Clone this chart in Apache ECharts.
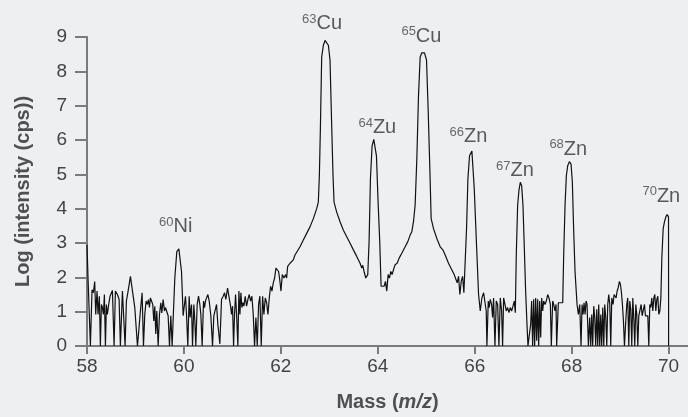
<!DOCTYPE html>
<html>
<head>
  <meta charset="utf-8">
  <title>Mass spectrum</title>
  <script src="https://cdn.jsdelivr.net/npm/echarts@6/dist/echarts.min.js"></script>
  <style>
    html, body { margin: 0; padding: 0; background: #eeeff1; }
    #chart { width: 688px; height: 417px; }
  </style>
</head>
<body>
  <div id="chart"></div>
  <script>
    // [mass (m/z), log intensity (cps)]
    const spectrum = [
      [58.000, 2.95], [58.021, 1.98], [58.070, 0], [58.104, 1.64], [58.132, 1.55], [58.159, 1.88],
      [58.180, 0.92], [58.207, 1.60], [58.228, 0.92], [58.255, 1.45], [58.276, 0], [58.297, 1.21],
      [58.318, 1.12], [58.338, 0.92], [58.359, 1.50], [58.380, 0], [58.400, 1.21], [58.420, 0.92],
      [58.448, 1.21], [58.476, 1.45], [58.524, 1.62], [58.559, 0], [58.586, 1.60], [58.627, 1.50],
      [58.662, 1.36], [58.689, 0], [58.731, 1.60], [58.758, 1.62], [58.786, 0], [58.813, 1.31],
      [58.848, 1.60], [58.896, 2.03], [58.937, 2.00], [58.986, 1.12], [59.013, 1.07], [59.041, 0],
      [59.068, 0.44], [59.096, 0.92], [59.137, 1.55], [59.165, 0], [59.192, 0.92], [59.220, 1.31],
      [59.247, 1.21], [59.268, 1.35], [59.288, 1.12], [59.309, 1.40], [59.330, 1.36], [59.357, 1.21],
      [59.378, 0.73], [59.399, 1.16], [59.419, 0.35], [59.440, 1.02], [59.468, 0], [59.495, 0.92],
      [59.523, 1.26], [59.543, 0.96], [59.571, 1.35], [59.598, 1.02], [59.619, 1.12], [59.647, 1.16],
      [59.674, 0.88], [59.702, 0], [59.729, 0.88], [59.757, 0], [59.784, 1.02], [59.812, 1.98],
      [59.853, 2.75], [59.895, 2.83], [59.925, 2.80], [59.950, 2.17], [59.984, 0.88], [60.011, 1.21],
      [60.032, 1.45], [60.053, 0.92], [60.080, 0], [60.108, 1.45], [60.128, 0.83], [60.156, 1.21],
      [60.177, 0], [60.204, 1.21], [60.225, 0.73], [60.245, 0], [60.273, 1.21], [60.301, 1.45],
      [60.328, 1.21], [60.349, 0.92], [60.376, 0], [60.404, 1.31], [60.425, 1.12], [60.445, 1.31],
      [60.466, 1.40], [60.494, 1.50], [60.521, 1.31], [60.555, 0.88], [60.590, 0], [60.617, 0.88],
      [60.645, 0.88], [60.673, 1.21], [60.700, 0.63], [60.741, 0.06], [60.776, 1.36], [60.810, 1.45],
      [60.838, 1.55], [60.865, 1.36], [60.900, 1.69], [60.934, 1.74], [60.962, 1.16], [60.982, 0.92],
      [61.003, 1.16], [61.024, 0], [61.044, 0.92], [61.065, 1.50], [61.086, 0.92], [61.113, 0],
      [61.134, 1.60], [61.155, 0.92], [61.175, 1.55], [61.196, 1.12], [61.216, 1.26], [61.237, 1.16],
      [61.265, 1.45], [61.292, 1.16], [61.320, 1.36], [61.347, 1.50], [61.375, 1.31], [61.402, 1.45],
      [61.430, 0.92], [61.457, 0], [61.485, 0.83], [61.513, 0], [61.540, 1.21], [61.567, 1.45],
      [61.595, 0], [61.623, 1.45], [61.650, 0.92], [61.678, 1.40], [61.706, 1.26], [61.733, 0.92],
      [61.761, 1.40], [61.788, 1.74], [61.816, 1.60], [61.843, 1.84], [61.871, 1.98], [61.898, 2.27],
      [61.926, 2.22], [61.953, 2.17], [61.981, 1.88], [62.002, 1.60], [62.030, 2.08], [62.064, 1.98],
      [62.098, 2.08], [62.119, 1.98], [62.140, 2.32], [62.188, 2.41], [62.257, 2.51], [62.291, 2.65],
      [62.326, 2.70], [62.395, 2.89], [62.463, 3.09], [62.532, 3.28], [62.601, 3.47], [62.670, 3.71],
      [62.739, 4.00], [62.773, 4.19], [62.794, 4.96], [62.815, 6.31], [62.842, 8.42], [62.877, 8.76],
      [62.911, 8.90], [62.945, 8.90], [62.980, 8.76], [63.014, 8.33], [63.049, 6.40], [63.076, 4.96],
      [63.097, 4.19], [63.152, 3.90], [63.221, 3.62], [63.290, 3.37], [63.359, 3.18], [63.428, 2.99],
      [63.496, 2.80], [63.565, 2.61], [63.634, 2.41], [63.669, 2.27], [63.689, 2.35], [63.717, 2.17],
      [63.751, 1.98], [63.793, 2.08], [63.820, 3.04], [63.848, 4.87], [63.882, 5.83], [63.917, 6.02],
      [63.944, 5.97], [63.972, 5.54], [64.006, 4.19], [64.040, 3.04], [64.068, 1.74], [64.102, 1.79],
      [64.130, 1.74], [64.158, 1.88], [64.185, 1.60], [64.213, 2.08], [64.240, 1.98], [64.268, 2.17],
      [64.295, 2.08], [64.323, 2.22], [64.357, 2.37], [64.399, 2.41], [64.440, 2.56], [64.495, 2.70],
      [64.564, 2.89], [64.619, 3.04], [64.667, 3.23], [64.702, 3.33], [64.736, 3.62], [64.770, 4.10],
      [64.805, 5.44], [64.839, 7.27], [64.874, 8.42], [64.908, 8.54], [64.963, 8.54], [65.005, 8.33],
      [65.039, 6.88], [65.074, 5.15], [65.101, 3.71], [65.149, 3.42], [65.218, 3.13], [65.287, 2.89],
      [65.342, 2.80], [65.363, 2.85], [65.390, 2.65], [65.425, 2.61], [65.459, 2.41], [65.480, 2.46],
      [65.508, 2.27], [65.542, 2.22], [65.576, 2.08], [65.611, 2.12], [65.638, 1.84], [65.666, 2.03],
      [65.693, 1.50], [65.721, 1.88], [65.749, 2.03], [65.776, 1.55], [65.804, 1.60], [65.831, 3.42],
      [65.859, 4.87], [65.893, 5.54], [65.941, 5.68], [65.990, 4.58], [66.031, 3.14], [66.079, 1.50],
      [66.114, 1.02], [66.148, 1.40], [66.183, 1.55], [66.217, 1.50], [66.237, 1.02], [66.251, 0],
      [66.279, 1.31], [66.300, 1.12], [66.320, 1.36], [66.348, 1.21], [66.368, 0.83], [66.389, 1.40],
      [66.417, 0], [66.444, 1.31], [66.472, 1.21], [66.499, 0], [66.527, 1.40], [66.554, 1.02],
      [66.575, 0], [66.596, 1.40], [66.623, 1.21], [66.651, 1.02], [66.678, 1.12], [66.706, 0.97],
      [66.733, 1.12], [66.761, 1.02], [66.789, 1.16], [66.816, 1.31], [66.837, 0.97], [66.857, 2.65],
      [66.885, 4.10], [66.912, 4.53], [66.940, 4.77], [66.968, 4.67], [66.995, 4.10], [67.023, 2.85],
      [67.050, 1.60], [67.078, 0.63], [67.098, 0], [67.126, 0], [67.154, 0.63], [67.174, 1.31],
      [67.195, 0], [67.216, 1.36], [67.236, 0], [67.257, 1.40], [67.278, 0.15], [67.298, 1.36],
      [67.319, 0], [67.340, 1.31], [67.360, 0.25], [67.381, 1.40], [67.402, 1.02], [67.422, 1.31],
      [67.450, 1.21], [67.477, 1.31], [67.505, 1.50], [67.532, 1.40], [67.560, 1.21], [67.580, 0],
      [67.608, 1.31], [67.629, 1.21], [67.656, 1.02], [67.677, 1.21], [67.690, 0], [67.725, 1.26],
      [67.766, 1.26], [67.815, 1.26], [67.835, 2.65], [67.863, 4.10], [67.890, 4.96], [67.918, 5.25],
      [67.952, 5.37], [67.987, 5.30], [68.014, 4.77], [68.040, 3.42], [68.069, 2.17], [68.111, 1.21],
      [68.138, 0.92], [68.166, 1.21], [68.193, 0], [68.214, 1.21], [68.235, 0.92], [68.255, 1.26],
      [68.276, 0.92], [68.297, 1.31], [68.317, 1.21], [68.345, 0], [68.372, 0.83], [68.393, 0],
      [68.414, 0.92], [68.434, 0], [68.455, 1.16], [68.476, 0.83], [68.496, 0], [68.517, 1.07],
      [68.538, 0], [68.558, 1.21], [68.579, 0], [68.600, 0.92], [68.620, 0], [68.641, 1.12],
      [68.662, 0], [68.682, 1.21], [68.703, 0.83], [68.724, 0], [68.744, 1.21], [68.765, 1.50],
      [68.786, 1.21], [68.806, 0], [68.827, 1.40], [68.854, 1.21], [68.875, 1.50], [68.896, 1.55],
      [68.917, 1.40], [68.937, 1.60], [68.958, 1.69], [68.985, 1.88], [69.006, 1.79], [69.027, 1.55],
      [69.047, 1.21], [69.068, 0.73], [69.089, 0], [69.116, 0.73], [69.137, 1.21], [69.157, 1.40],
      [69.178, 0], [69.199, 1.31], [69.219, 1.07], [69.240, 0], [69.261, 1.40], [69.281, 0.83],
      [69.302, 0], [69.323, 1.21], [69.343, 0.92], [69.364, 0], [69.385, 0.88], [69.405, 0.92],
      [69.433, 1.21], [69.454, 0.88], [69.474, 0.92], [69.502, 1.21], [69.522, 0.88], [69.550, 0.92],
      [69.571, 0.88], [69.591, 0], [69.612, 1.21], [69.633, 1.12], [69.653, 1.40], [69.674, 1.02],
      [69.695, 1.40], [69.715, 1.50], [69.736, 1.02], [69.757, 1.36], [69.777, 1.45], [69.798, 0.92],
      [69.819, 1.02], [69.840, 1.40], [69.860, 2.56], [69.888, 3.42], [69.915, 3.62], [69.943, 3.76],
      [69.970, 3.83], [69.998, 3.76], [70.000, 0]
    ];

    // peak labels: isotope number, element, and where the label sits
    const isotopes = ['60', '63', '64', '65', '66', '67', '68', '70'];
    const elements = ['Ni', 'Cu', 'Zu', 'Cu', 'Zn', 'Zn', 'Zn', 'Zn'];
    const labelMass = [59.83, 62.85, 63.99, 64.90, 65.87, 66.83, 67.93, 69.85];
    const labelLevel = [3.48, 9.39, 6.35, 9.02, 6.10, 5.11, 5.73, 4.36];

    const xTicks = [58, 60, 62, 64, 66, 68, 70];

    const chart = echarts.init(document.getElementById('chart'));
    const axisColor = '#7b7b7b';
    const textColor = '#444';
    const font = 'Liberation Sans, Arial, sans-serif';

    const option = {
      backgroundColor: '#eeeff1',
      animation: false,
      grid: { left: 87, right: 0, top: 37, bottom: 68 },
      xAxis: {
        type: 'value',
        min: 58,
        max: 70.4,
        name: '{a|Mass (}{i|m/z}{a|)}',
        nameLocation: 'middle',
        nameGap: 46,
        nameTextStyle: {
          rich: {
            a: { fontFamily: font, fontSize: 20, fontWeight: 'bold', color: '#505050' },
            i: { fontFamily: font, fontSize: 20, fontWeight: 'bold', fontStyle: 'italic', color: '#505050' }
          }
        },
        axisLine: { lineStyle: { color: axisColor, width: 2 } },
        axisTick: { length: 8, customValues: xTicks, lineStyle: { color: axisColor, width: 2 } },
        axisLabel: { customValues: xTicks, margin: 11, fontFamily: font, fontSize: 19, color: textColor },
        splitLine: { show: false }
      },
      yAxis: {
        type: 'value',
        min: 0,
        max: 9,
        interval: 1,
        name: 'Log (intensity (cps))',
        nameLocation: 'middle',
        nameGap: 54,
        nameTextStyle: { fontFamily: font, fontSize: 20, fontWeight: 'bold', color: '#505050' },
        axisLine: { show: true, lineStyle: { color: axisColor, width: 2 } },
        axisTick: { show: true, length: 12, lineStyle: { color: axisColor, width: 2 } },
        axisLabel: { margin: 20, fontFamily: font, fontSize: 19, color: textColor },
        splitLine: { show: false }
      },
      series: [
        {
          type: 'line',
          data: spectrum,
          showSymbol: false,
          lineStyle: { color: '#111', width: 1.2 },
          silent: true
        },
        {
          type: 'scatter',
          symbolSize: 1,
          clip: false,
          itemStyle: { color: 'transparent' },
          silent: true,
          data: labelMass.map((m, i) => [m, labelLevel[i]]),
          label: {
            show: true,
            position: 'inside',
            formatter: p => '{s|' + isotopes[p.dataIndex] + '}{e|' + elements[p.dataIndex] + '}',
            rich: {
              s: { fontFamily: font, fontSize: 13, color: textColor, verticalAlign: 'top', lineHeight: 14 },
              e: { fontFamily: font, fontSize: 20, color: '#333', lineHeight: 22 }
            }
          }
        }
      ]
    };

    chart.setOption(option);
  </script>
</body>
</html>
